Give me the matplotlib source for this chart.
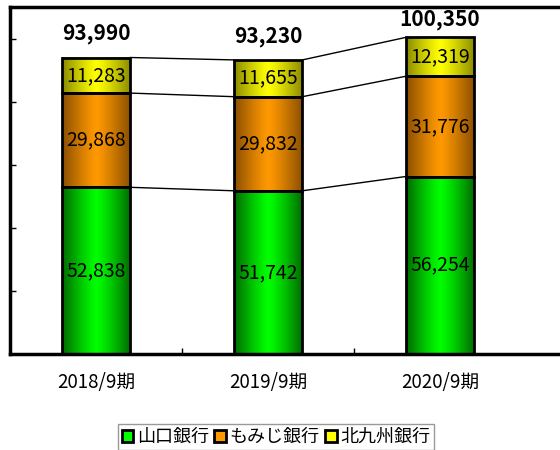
import numpy as np
import matplotlib.pyplot as plt
from matplotlib.patches import Patch
from matplotlib.colors import to_rgb

plt.rcParams['font.family'] = ['Noto Sans CJK JP', 'DejaVu Sans']

periods = ["2018/9期", "2019/9期", "2020/9期"]
banks = ["山口銀行", "もみじ銀行", "北九州銀行"]
yamaguchi = [52838, 51742, 56254]
momiji = [29868, 29832, 31776]
kitakyushu = [11283, 11655, 12319]
totals = [93990, 93230, 100350]

# (dark edge colour, bright centre colour) per bank
shades = [("#006a00", "#00ff00"), ("#8a4e00", "#ff9900"), ("#8a8a00", "#ffff00")]


def gradient(dark, bright, n=64):
    d = np.array(to_rgb(dark))
    b = np.array(to_rgb(bright))
    t = 1 - np.abs(np.linspace(-1, 1, n)) ** 1.2
    return (d[None, :] * (1 - t[:, None]) + b[None, :] * t[:, None])[None, :, :]


def main():
    fig = plt.figure(figsize=(5.6, 4.5), dpi=100)
    ax = fig.add_axes([10 / 560, 96 / 450, 600 / 560, 347 / 450])

    x = np.arange(len(periods))
    w = 0.4
    series = [yamaguchi, momiji, kitakyushu]
    bottom = np.zeros(len(periods))
    tops = []
    for vals, (dark, bright) in zip(series, shades):
        vals = np.array(vals)
        bars = ax.bar(x, vals, w, bottom=bottom, facecolor="none",
                      edgecolor="black", linewidth=2, zorder=3)
        for b, v in zip(bars, vals):
            x0 = b.get_x()
            y0 = b.get_y()
            ax.imshow(gradient(dark, bright), extent=[x0, x0 + w, y0, y0 + v],
                      aspect="auto", zorder=2, interpolation="bilinear")
            ax.text(x0 + w / 2, y0 + v / 2, f"{v:,}", ha="center", va="center",
                    fontsize=14, zorder=4)
        bottom = bottom + vals
        tops.append(bottom.copy())

    # connecting lines between bars
    for level in tops:
        for i in range(len(x) - 1):
            ax.plot([x[i] + w / 2, x[i + 1] - w / 2], [level[i], level[i + 1]],
                    color="black", linewidth=1, zorder=1)

    for i, t in enumerate(totals):
        ax.text(x[i], min(bottom[i] + 7500, 106000), f"{t:,}", ha="center",
                va="center", fontsize=15, fontweight="bold")

    ax.set_xlim(-0.5, -0.5 + 600 / 172)
    ax.set_ylim(0, 110000)
    ax.set_yticks([20000, 40000, 60000, 80000, 100000])
    ax.set_yticklabels([])
    ax.set_xticks([0.5, 1.5])
    ax.set_xticklabels([])
    ax.tick_params(direction="in", length=4, width=1)
    ax.spines["right"].set_visible(False)
    for s in ["left", "top", "bottom"]:
        ax.spines[s].set_linewidth(2.5)

    for i, p in enumerate(periods):
        ax.text(x[i], -9000, p, ha="center", va="center", fontsize=13.5)

    handles = [Patch(facecolor=br, edgecolor="black", linewidth=2) for _, br in shades]
    leg = fig.legend(handles, banks, loc="center", bbox_to_anchor=(276 / 560, 1 - 437 / 450),
                     ncol=3, fontsize=13, frameon=True, fancybox=False,
                     handlelength=0.65, handleheight=0.65, handletextpad=0.2,
                     columnspacing=0.3, borderpad=0.2, borderaxespad=0)
    leg.get_frame().set_edgecolor("gray")
    leg.get_frame().set_linewidth(1)

    fig.savefig("out.png", dpi=100)


if __name__ == '__main__':
    main()
